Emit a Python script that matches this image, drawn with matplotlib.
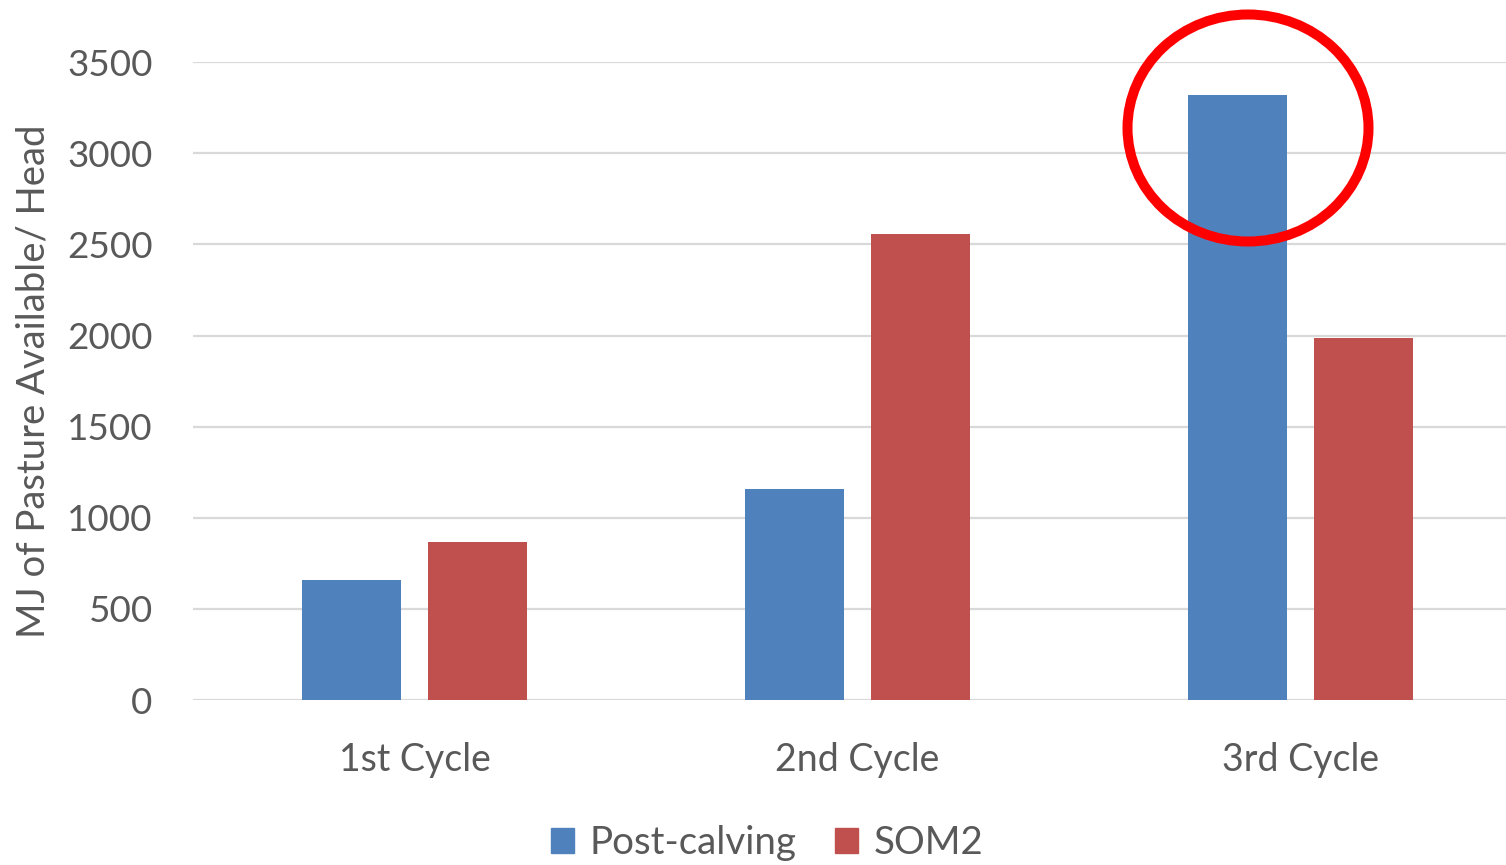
import numpy as np
import matplotlib
matplotlib.use('Agg')
import matplotlib.pyplot as plt
from matplotlib.patches import Ellipse, Patch

plt.rcParams['font.family'] = ['Lato', 'DejaVu Sans']

# data
cycles = ['1st Cycle', '2nd Cycle', '3rd Cycle']
post_calving = [660, 1160, 3320]
som2 = [865, 2560, 1985]
yticks = [0, 500, 1000, 1500, 2000, 2500, 3000, 3500]

blue = '#4F81BD'
red = '#C0504D'
txt = '#595959'

W, H = 1506, 865
fig = plt.figure(figsize=(W / 100, H / 100), dpi=100)
ax = fig.add_axes([193 / W, 165 / H, (1522 - 193) / W, (701 - 63.3) / H])

x = np.arange(len(cycles))
bw = 0.224
ax.bar(x - 0.143, post_calving, bw, color=blue, zorder=3, label='Post-calving')
ax.bar(x + 0.143, som2, bw, color=red, zorder=3, label='SOM2')

ax.set_xlim(-0.5, 2.5)
ax.set_ylim(0, 3500)
ax.set_yticks(yticks)
ax.set_xticks(x)
ax.set_xticklabels(cycles)
ax.yaxis.grid(True, color='#D9D9D9', linewidth=1.6, zorder=0)
ax.tick_params(axis='y', length=0, labelsize=26.5, labelcolor=txt, pad=29)
ax.tick_params(axis='x', length=0, labelsize=27, labelcolor=txt, pad=30)
for s in ax.spines.values():
    s.set_visible(False)

ax.set_ylabel('MJ of Pasture Available/ Head', fontsize=27.5, color=txt)
ax.yaxis.set_label_coords(-(193 - 52) / (1522 - 193), (701 - 382) / (701 - 63.3))

# red highlight circle around 3rd cycle post-calving bar (figure pixel coords)
circ = Ellipse((1248 / W, 1 - 128 / H), 241 / W, 227 / H, transform=fig.transFigure,
               fill=False, edgecolor='#FF0000', linewidth=7.2, zorder=10)
fig.patches.append(circ)

handles = [Patch(color=blue, label='Post-calving'), Patch(color=red, label='SOM2')]
fig.legend(handles=handles, loc='center', bbox_to_anchor=(767 / W, 1 - 843 / H), ncol=2,
           frameon=False, fontsize=27.7, labelcolor=txt, handlelength=0.6, handleheight=0.6,
           handletextpad=0.4, columnspacing=1.0)

fig.savefig('out.png', dpi=100)
